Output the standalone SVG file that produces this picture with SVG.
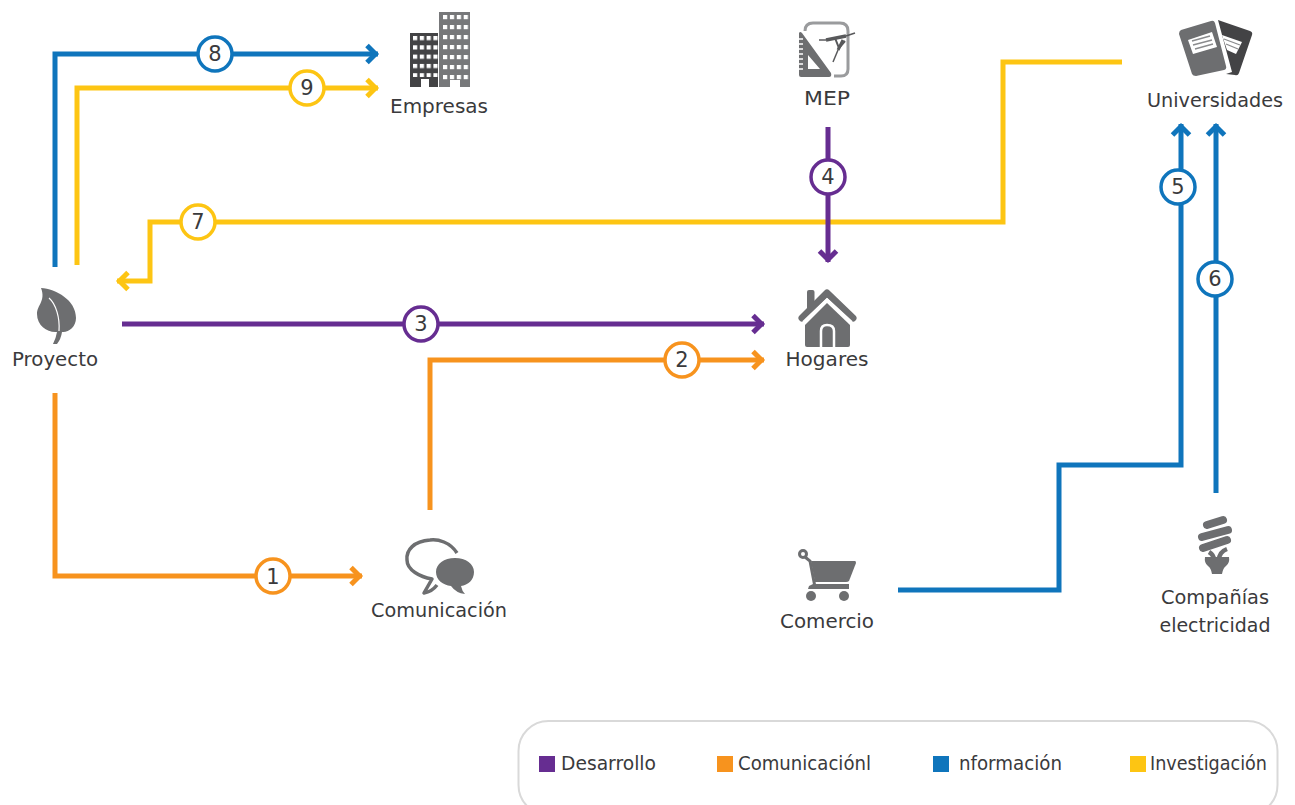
<svg xmlns="http://www.w3.org/2000/svg" width="1295" height="805" viewBox="0 0 1295 805">
<style>
text{font-family:"DejaVu Sans","Liberation Sans",sans-serif;font-size:20px;fill:#3a3a3c;text-anchor:middle}
.n{font-size:21px}
.c{fill:none;stroke-width:5;stroke-linejoin:miter}
.pu{stroke:#662d91}.or{stroke:#f7931e}.bl{stroke:#0f75bc}.ye{stroke:#fdc513}
.b{fill:#fff;stroke-width:3.5}
.g{fill:#6d6e70}
.d{fill:#434345}
.w{fill:#fff}
.lg text{text-anchor:start}
</style>
<defs>
<marker id="apu" markerUnits="userSpaceOnUse" markerWidth="20" markerHeight="28" refX="15" refY="14" orient="auto"><path d="M4,5.5 L12.5,14 L4,22.5" fill="none" stroke="#662d91" stroke-width="5"/></marker>
<marker id="aor" markerUnits="userSpaceOnUse" markerWidth="20" markerHeight="28" refX="15" refY="14" orient="auto"><path d="M4,5.5 L12.5,14 L4,22.5" fill="none" stroke="#f7931e" stroke-width="5"/></marker>
<marker id="abl" markerUnits="userSpaceOnUse" markerWidth="20" markerHeight="28" refX="15" refY="14" orient="auto"><path d="M4,5.5 L12.5,14 L4,22.5" fill="none" stroke="#0f75bc" stroke-width="5"/></marker>
<marker id="aye" markerUnits="userSpaceOnUse" markerWidth="20" markerHeight="28" refX="15" refY="14" orient="auto"><path d="M4,5.5 L12.5,14 L4,22.5" fill="none" stroke="#fdc513" stroke-width="5"/></marker>
<pattern id="winD" patternUnits="userSpaceOnUse" x="413" y="36" width="6.8" height="9.3"><rect width="4.2" height="4.2" fill="#fff"/></pattern>
<pattern id="winL" patternUnits="userSpaceOnUse" x="443" y="15" width="6.9" height="10"><rect width="4.2" height="4.2" fill="#fff"/></pattern>
</defs>

<g id="connectors">
<path class="c bl" d="M55,267 V54 H378" marker-end="url(#abl)"/>
<path class="c ye" d="M77,265 V88 H378" marker-end="url(#aye)"/>
<path class="c ye" d="M1122,62 H1003 V222 H150 V281 H117" marker-end="url(#aye)"/>
<path class="c pu" d="M828,127 V262" marker-end="url(#apu)"/>
<path class="c pu" d="M122,324 H764" marker-end="url(#apu)"/>
<path class="c or" d="M430,510 V360 H764" marker-end="url(#aor)"/>
<path class="c or" d="M55,393 V576 H362" marker-end="url(#aor)"/>
<path class="c bl" d="M898,590 H1059 V465 H1181 V124" marker-end="url(#abl)"/>
<path class="c bl" d="M1216,493 V124" marker-end="url(#abl)"/>
<g id="badges">
<circle class="b or" cx="273" cy="576" r="17"/><text class="n" x="273" y="584">1</text>
<circle class="b or" cx="682" cy="360" r="17"/><text class="n" x="682" y="367">2</text>
<circle class="b pu" cx="421" cy="324" r="17"/><text class="n" x="421" y="331">3</text>
<circle class="b pu" cx="828" cy="177" r="17"/><text class="n" x="828" y="184">4</text>
<circle class="b bl" cx="1178" cy="187" r="17"/><text class="n" x="1178" y="194">5</text>
<circle class="b bl" cx="1215" cy="279" r="17"/><text class="n" x="1215" y="286">6</text>
<circle class="b ye" cx="198" cy="222" r="17"/><text class="n" x="198" y="229">7</text>
<circle class="b bl" cx="215" cy="54" r="17"/><text class="n" x="215" y="61">8</text>
<circle class="b ye" cx="307" cy="88" r="17"/><text class="n" x="307" y="95">9</text>
</g>
</g>

<g id="empresas">
<rect class="d" x="410" y="33" width="28" height="54"/>
<rect x="413" y="36" width="26" height="41" fill="url(#winD)"/>
<rect class="w" x="421" y="79" width="8" height="8"/>
<rect fill="#77787a" x="439" y="12" width="31" height="75"/>
<rect x="443" y="15" width="26" height="65" fill="url(#winL)"/>
<rect class="w" x="450" y="80" width="10" height="7"/>
<text x="439" y="113" textLength="98" lengthAdjust="spacingAndGlyphs">Empresas</text>
</g>

<g id="mep">
<path d="M805,31 Q805,23 813,23 H840 Q848,23 848,31 V69 Q848,76 841,76 H834" fill="none" stroke="#9a9b9d" stroke-width="3"/>
<path class="g" fill-rule="evenodd" d="M799,33 Q800,31 802,33 L831,73 Q832,77 829,77 H801 Q799,77 799,75 Z M808,55 V69 H820 Z"/>
<path d="M799,39H803M799,44H803M799,49H803M799,54H803M799,59H803M799,64H803M799,69H803" stroke="#fff" stroke-width="1.3"/>
<path d="M819,40 H826" fill="none" stroke="#58595b" stroke-width="1.5"/>
<path d="M826,40 L846,36" fill="none" stroke="#58595b" stroke-width="3.5"/>
<path d="M846,36 L855,33" fill="none" stroke="#58595b" stroke-width="1.5"/>
<path d="M833,62 L838,50" fill="none" stroke="#58595b" stroke-width="1.5"/>
<path d="M838,50 L843,40" fill="none" stroke="#58595b" stroke-width="3"/>
<path d="M835,38 L839,48 L845,41" fill="none" stroke="#58595b" stroke-width="2"/>
<text x="827" y="105" textLength="46" lengthAdjust="spacingAndGlyphs">MEP</text>
</g>

<g id="universidades">
<path class="d" d="M1218,20 L1250,31 Q1253,32 1252,35 L1239,73 Q1238,76 1235,75 L1226,74 L1232,72 Z"/>
<path class="w" d="M1222,35 L1242,42 L1236,54 L1227,50 Z"/>
<path d="M1224,39 L1240,45M1226,44 L1238,49" stroke="#8a8b8d" stroke-width="1.3"/>
<path class="g" d="M1181,30 L1211,21 Q1214,20 1215,23 L1226,66 Q1227,69 1224,70 L1196,76 Q1193,76 1192,74 L1179,34 Q1179,31 1181,30 Z"/>
<path class="w" d="M1188,40 L1212,32 L1217,47 L1193,54 Z"/>
<path d="M1192,41 L1210,36M1193,45 L1212,40M1195,49 L1213,44" stroke="#8a8b8d" stroke-width="1.3"/>
<text x="1215" y="107" textLength="136" lengthAdjust="spacingAndGlyphs">Universidades</text>
</g>

<g id="proyecto">
<path class="g" d="M41,288 C56,289 76,300 76,318 C76,327 68,333 62,332 Q61,339 57,344 L53,344 Q56,338 57,332 C48,333 37,326 37,314 C37,305 46,301 41,288 Z"/>
<path d="M49,298 C56,304 60,318 59,331" fill="none" stroke="#fff" stroke-width="1.2"/>
<text x="55" y="366" textLength="86" lengthAdjust="spacingAndGlyphs">Proyecto</text>
</g>

<g id="hogares">
<rect class="g" x="807" y="290" width="7.5" height="22" rx="2"/>
<path d="M802,318 L827,293 L853,318" fill="none" stroke="#6d6e70" stroke-width="7" stroke-linecap="round" stroke-linejoin="round"/>
<path d="M803,322 L827,299 L852,322" fill="none" stroke="#fff" stroke-width="2"/>
<path class="g" d="M827,303 L850,325 V345 Q850,347 848,347 H807 Q805,347 805,345 V325 Z"/>
<path d="M821,347 V331 Q821,325 827,325 Q834,325 834,331 V347" fill="none" stroke="#fff" stroke-width="2.5"/>
<text x="827" y="366" textLength="83" lengthAdjust="spacingAndGlyphs">Hogares</text>
</g>

<g id="comunicacion">
<path d="M457,553 C450,542 438,539 430,540 C414,541 406,550 407,560 C407,570 420,577 432,579 L424,593 C430,592 434,589 437,585" fill="none" stroke="#6d6e70" stroke-width="3.5" stroke-linejoin="round"/>
<path class="g" d="M455,558 C466,558 474,564 474,572 C474,580 468,585 461,586 Q462,591 465,594 Q456,593 451,586 C443,585 436,580 436,572 C436,564 444,558 455,558 Z"/>
<text x="439" y="617" textLength="136" lengthAdjust="spacingAndGlyphs">Comunicación</text>
</g>

<g id="comercio">
<circle cx="803" cy="554" r="3.5" fill="none" stroke="#6d6e70" stroke-width="3"/>
<path d="M805,557 L810,561 L815,587" fill="none" stroke="#6d6e70" stroke-width="3"/>
<path class="g" d="M811,561 H855 Q856,561 856,563 L849,581 Q848,582 846,582 H815 Z"/>
<path class="g" d="M809,586 L813,584 H849 V589 H808 Z"/>
<circle class="g" cx="811" cy="596" r="5"/>
<circle class="g" cx="844" cy="596" r="5"/>
<text x="827" y="628" textLength="94" lengthAdjust="spacingAndGlyphs">Comercio</text>
</g>

<g id="companias">
<path d="M1207,525 L1223,520M1202,537 L1228,530M1203,548 L1227,540" fill="none" stroke="#6d6e70" stroke-width="8" stroke-linecap="round"/>
<path d="M1209,552 Q1214,555 1214,560M1227,549 Q1219,552 1219,560" fill="none" stroke="#6d6e70" stroke-width="4.5"/>
<path class="g" d="M1205,557 H1229 Q1230,563 1226,566 Q1223,568 1222,574 H1212 Q1211,568 1208,566 Q1204,563 1205,557 Z"/>
<text x="1215" y="604" textLength="108" lengthAdjust="spacingAndGlyphs">Compañías</text>
<text x="1215" y="632" textLength="111" lengthAdjust="spacingAndGlyphs">electricidad</text>
</g>

<g id="leyenda" class="lg">
<rect x="518.5" y="721" width="759" height="94" rx="30" fill="#fff" stroke="#d9d9d9" stroke-width="2"/>
<rect x="539" y="756" width="16" height="16" fill="#662d91"/>
<text x="561" y="770" textLength="95" lengthAdjust="spacingAndGlyphs">Desarrollo</text>
<rect x="717" y="756" width="16" height="16" fill="#f7931e"/>
<text x="738" y="770" textLength="133" lengthAdjust="spacingAndGlyphs">Comunicaciónl</text>
<rect x="933" y="756" width="16" height="16" fill="#0f75bc"/>
<text x="959" y="770" textLength="103" lengthAdjust="spacingAndGlyphs">nformación</text>
<rect x="1130" y="756" width="16" height="16" fill="#fdc513"/>
<text x="1150" y="770" textLength="117" lengthAdjust="spacingAndGlyphs">Investigación</text>
</g>
</svg>
